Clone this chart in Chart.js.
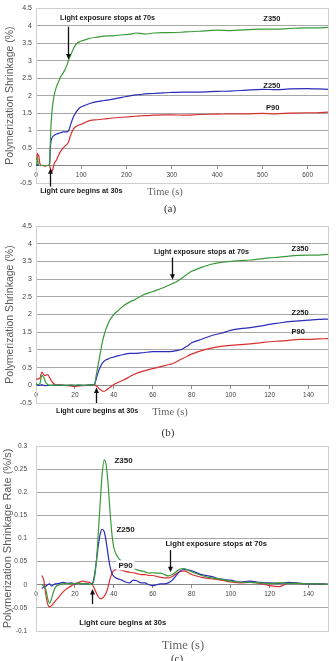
<!DOCTYPE html>
<html>
<head>
<meta charset="utf-8">
<script src="https://cdn.jsdelivr.net/npm/chart.js"></script>
<style>
  body { margin: 0; background: #fff; width: 336px; height: 661px; overflow: hidden; position: relative; }
  .box { position: absolute; left: 0; width: 336px; }
</style>
</head>
<body>
<div class="box" style="top:0;height:215px"><canvas id="chartA"></canvas></div>
<div class="box" style="top:215px;height:225px"><canvas id="chartB"></canvas></div>
<div class="box" style="top:430px;height:231px"><canvas id="chartC"></canvas></div>
<script>
// (a) shrinkage, whole run 0-645 s
var timeA = [0, 1, 2, 3, 4, 5, 6, 8, 10, 15, 20, 25, 29, 30, 31, 32, 33, 35, 37, 40, 45, 50, 55, 60, 65, 70, 73, 76, 80, 85, 90, 95, 100, 110, 120, 135, 150, 170, 190, 210, 220, 230, 240, 260, 280, 300, 330, 360, 400, 430, 460, 500, 530, 560, 600, 620, 645];
var z350A = [0.05, 0.02, 0.1, 0.25, 0.15, 0.05, 0, 0, 0, 0, 0, 0, 0, 0.05, 0.4, 0.8, 1.1, 1.5, 1.75, 2.0, 2.25, 2.4, 2.55, 2.65, 2.77, 2.93, 3.05, 3.15, 3.26, 3.4, 3.49, 3.53, 3.56, 3.6, 3.64, 3.67, 3.7, 3.71, 3.74, 3.76, 3.79, 3.78, 3.76, 3.79, 3.8, 3.8, 3.82, 3.84, 3.87, 3.86, 3.88, 3.9, 3.9, 3.92, 3.94, 3.94, 3.95];
var z250A = [0.04, 0, 0.02, 0.03, 0, 0, 0, 0, 0, 0, 0, 0, 0, 0.03, 0.3, 0.55, 0.68, 0.78, 0.83, 0.86, 0.9, 0.92, 0.94, 0.96, 0.96, 0.97, 1.02, 1.15, 1.3, 1.45, 1.55, 1.63, 1.68, 1.73, 1.78, 1.83, 1.86, 1.9, 1.95, 2.0, 2.02, 2.03, 2.05, 2.06, 2.08, 2.09, 2.1, 2.1, 2.12, 2.13, 2.15, 2.18, 2.17, 2.19, 2.2, 2.19, 2.18];
var p90A = [0.17, 0.18, 0.2, 0.35, 0.3, 0.28, 0.3, 0.1, 0.02, 0, -0.02, 0, 0.02, 0, -0.05, -0.1, -0.13, -0.17, -0.12, 0.05, 0.15, 0.3, 0.42, 0.5, 0.57, 0.63, 0.72, 0.85, 0.98, 1.08, 1.13, 1.16, 1.18, 1.24, 1.29, 1.31, 1.33, 1.36, 1.38, 1.4, 1.41, 1.42, 1.43, 1.44, 1.45, 1.45, 1.44, 1.46, 1.47, 1.48, 1.48, 1.49, 1.48, 1.5, 1.51, 1.51, 1.53];

// (b) shrinkage, first 150 s
var timeB = [0, 1, 2, 3, 4, 5, 6, 7, 8, 9, 10, 12, 15, 18, 20, 22, 25, 28, 30, 31, 32, 33, 34, 35, 36, 37, 38, 40, 42, 45, 48, 50, 55, 60, 65, 68, 70, 72, 75, 78, 80, 85, 90, 95, 100, 105, 110, 115, 120, 125, 130, 135, 140, 145, 150];
var z350B = [0.05, 0.02, 0.05, 0.28, 0.22, 0.08, 0.02, 0, 0, 0.01, 0, 0.01, 0, 0.01, 0, 0.01, 0, 0.01, 0.02, 0.3, 0.6, 0.9, 1.2, 1.42, 1.6, 1.73, 1.85, 2.0, 2.1, 2.25, 2.35, 2.4, 2.55, 2.65, 2.75, 2.82, 2.87, 2.92, 3.03, 3.15, 3.22, 3.33, 3.42, 3.47, 3.5, 3.52, 3.54, 3.57, 3.6, 3.62, 3.65, 3.67, 3.68, 3.68, 3.7];
var z250B = [0.04, 0, 0, 0.02, 0, -0.01, 0, 0, 0, 0, 0, 0, 0, 0, 0, 0, 0, 0, 0.02, 0.2, 0.38, 0.52, 0.62, 0.68, 0.72, 0.74, 0.77, 0.8, 0.83, 0.87, 0.9, 0.9, 0.92, 0.95, 0.95, 0.95, 0.96, 0.98, 1.02, 1.12, 1.2, 1.3, 1.4, 1.47, 1.55, 1.6, 1.63, 1.67, 1.72, 1.76, 1.8, 1.82, 1.84, 1.86, 1.87];
var p90B = [0.17, 0.18, 0.2, 0.37, 0.3, 0.28, 0.3, 0.22, 0.12, 0.05, 0.02, 0.01, 0, -0.02, -0.03, -0.02, 0, 0.01, 0.02, -0.02, -0.07, -0.12, -0.16, -0.17, -0.14, -0.1, -0.06, 0.02, 0.08, 0.15, 0.24, 0.3, 0.4, 0.47, 0.54, 0.58, 0.61, 0.66, 0.75, 0.83, 0.88, 0.98, 1.05, 1.1, 1.13, 1.15, 1.17, 1.2, 1.23, 1.25, 1.27, 1.3, 1.3, 1.31, 1.32];

// (c) shrinkage rate
var timeC = [3, 4, 5, 6, 7, 8, 9, 10, 12, 14, 16, 18, 20, 22, 24, 26, 28, 29, 30, 31, 32, 33, 34, 35, 36, 37, 38, 39, 40, 42, 44, 46, 48, 50, 52, 54, 56, 58, 60, 62, 64, 66, 68, 70, 72, 74, 76, 78, 80, 85, 90, 95, 100, 105, 110, 115, 120, 125, 130, 135, 140, 145, 150];
var z350C = [0, -0.003, -0.01, -0.03, -0.04, -0.03, -0.015, -0.005, 0, 0.002, 0.003, 0.002, 0.003, 0.003, 0.002, 0.002, 0.001, 0.002, 0.015, 0.05, 0.11, 0.18, 0.24, 0.27, 0.26, 0.22, 0.16, 0.11, 0.08, 0.06, 0.05, 0.04, 0.038, 0.035, 0.032, 0.03, 0.028, 0.025, 0.026, 0.025, 0.025, 0.022, 0.019, 0.022, 0.028, 0.034, 0.035, 0.032, 0.028, 0.02, 0.015, 0.012, 0.008, 0.006, 0.005, 0.004, 0.003, 0.004, 0.003, 0.003, 0.002, 0.002, 0.001];
var z250C = [-0.008, -0.005, -0.003, 0, 0.002, -0.003, 0, 0.002, 0.003, 0.005, 0.003, 0.004, 0.002, 0.003, 0.002, 0.002, 0.001, 0.003, 0.02, 0.05, 0.085, 0.11, 0.12, 0.115, 0.095, 0.065, 0.04, 0.025, 0.018, 0.013, 0.01, 0.006, 0.004, 0.01, 0.008, 0.004, 0.004, 0, -0.002, 0, 0.002, 0.002, 0.004, 0.01, 0.02, 0.03, 0.033, 0.032, 0.03, 0.022, 0.018, 0.012, 0.01, 0.006, 0.008, 0.005, 0.004, 0.003, 0.005, 0.003, 0.002, 0.002, 0.001];
var p90C = [0.02, 0.01, -0.02, -0.042, -0.048, -0.045, -0.04, -0.035, -0.025, -0.015, -0.008, -0.003, 0.002, 0.005, 0.008, 0.006, 0.004, 0, -0.008, -0.018, -0.026, -0.03, -0.029, -0.025, -0.018, -0.005, 0.012, 0.025, 0.031, 0.033, 0.031, 0.029, 0.027, 0.026, 0.024, 0.022, 0.022, 0.02, 0.02, 0.018, 0.016, 0.015, 0.015, 0.018, 0.024, 0.028, 0.03, 0.027, 0.022, 0.016, 0.013, 0.01, 0.006, 0.004, 0.005, 0.003, -0.002, -0.004, 0.004, 0.003, 0.002, 0.002, 0.001];

var green = '#3a9a3a'
var blue = '#2c2cb8'
var red = '#d83030'
var sans = '"Liberation Sans", Arial, sans-serif'
var serif = '"Liberation Serif", "DejaVu Serif", serif'

function pts(t, v) {
  return t.map(function (x, i) { return { x: x, y: v[i] } })
}
function line(label, t, v, color) {
  return { label: label, data: pts(t, v), borderColor: color, borderWidth: 1.2, pointRadius: 0, fill: false, cubicInterpolationMode: 'monotone' }
}
function fmt(v) { return String(Number(v.toFixed(3))) }

// arrows, text labels and captions
var notes = {
  id: 'notes',
  beforeDatasetsDraw: function (chart) {
    var ctx = chart.ctx, a = chart.chartArea
    ctx.save()
    ctx.strokeStyle = '#cfcfcf'
    ctx.lineWidth = 1
    ctx.strokeRect(Math.round(a.left) + 0.5, Math.round(a.top) + 0.5, Math.round(a.right - a.left), Math.round(a.bottom - a.top))
    ctx.restore()
  },
  afterDraw: function (chart, args, opts) {
    var ctx = chart.ctx, xs = chart.scales.x, ys = chart.scales.y
    ctx.save()
    ctx.fillStyle = '#111'
    ctx.strokeStyle = '#111'
    ;(opts.arrows || []).forEach(function (ar) {
      var px = Math.round(xs.getPixelForValue(ar.x)) + 0.5
      var y0 = ys.getPixelForValue(ar.from), y1 = ys.getPixelForValue(ar.to)
      var dir = y1 > y0 ? 1 : -1
      ctx.lineWidth = 1.3
      ctx.beginPath(); ctx.moveTo(px, y0); ctx.lineTo(px, y1 - dir * 3); ctx.stroke()
      ctx.beginPath(); ctx.moveTo(px, y1); ctx.lineTo(px - 2.5, y1 - dir * 5.5); ctx.lineTo(px + 2.5, y1 - dir * 5.5); ctx.closePath(); ctx.fill()
    })
    ;(opts.labels || []).forEach(function (l) {
      var px = xs.getPixelForValue(l.x), py = ys.getPixelForValue(l.y)
      ctx.font = l.font
      ctx.textAlign = 'center'
      ctx.textBaseline = 'middle'
      if (l.bg) {
        var w = ctx.measureText(l.text).width
        ctx.fillStyle = '#fff'
        ctx.fillRect(px - w / 2 - 2, py - 5, w + 4, 10)
      }
      ctx.fillStyle = '#1a1a1a'
      ctx.fillText(l.text, px, py)
    })
    ;(opts.captions || []).forEach(function (c) {
      ctx.font = c.font
      ctx.fillStyle = c.color
      ctx.textAlign = 'center'
      ctx.textBaseline = 'middle'
      ctx.fillText(c.text, c.x, c.y)
    })
    ctx.restore()
  }
}

function makeChart(id, t, s350, s250, s90, cfg) {
  return new Chart(id, {
    type: 'line',
    data: {
      datasets: [line('Z350', t, s350, green), line('Z250', t, s250, blue), line('P90', t, s90, red)]
    },
    options: {
      responsive: true,
      maintainAspectRatio: false,
      animation: false,
      layout: { padding: cfg.padding },
      plugins: {
        legend: { display: false },
        tooltip: { enabled: false },
        notes: { arrows: cfg.arrows, labels: cfg.labels, captions: cfg.captions }
      },
      scales: {
        x: {
          type: 'linear',
          position: { y: 0 },
          min: 0, max: cfg.xMax,
          afterFit: function (s) { s.height = 0 },
          ticks: { stepSize: cfg.xStep, includeBounds: false, color: '#444', padding: 3, maxRotation: 0, font: { size: 6.5, family: sans } },
          grid: { drawOnChartArea: false, drawTicks: true, tickLength: 3, color: '#888' },
          border: { color: '#888' }
        },
        y: {
          min: cfg.yMin, max: cfg.yMax,
          afterFit: function (s) { s.width = 36 },
          ticks: { stepSize: cfg.yStep, color: '#444', padding: cfg.tickPad, callback: fmt, font: { size: cfg.yTickSize, family: sans } },
          grid: { color: '#a8a8a8', drawTicks: false },
          border: { color: '#999' },
          title: { display: true, text: cfg.yTitle, color: '#5a5a5a', padding: { top: cfg.titlePad, bottom: 0 }, font: { size: cfg.titleSize, family: sans } }
        }
      }
    },
    plugins: [notes]
  })
}

var noteAB = 'bold 7.2px ' + sans
var seriesAB = 'bold 7.5px ' + sans

makeChart('chartA', timeA, z350A, z250A, p90A, {
  padding: { top: 6, bottom: 32, left: 0, right: 8 },
  xMax: 645, xStep: 100,
  yMin: -0.5, yMax: 4.5, yStep: 0.5, yTickSize: 7, tickPad: 4,
  yTitle: 'Polymerization Shrinkage (%)', titleSize: 10.5, titlePad: 4,
  arrows: [{ x: 70, from: 3.97, to: 3.03 }, { x: 30, from: -0.6, to: -0.08 }],
  labels: [
    { text: 'Light exposure stops at 70s', x: 158, y: 4.23, font: noteAB },
    { text: 'Light cure begins at 30s', x: 100, y: -0.73, font: noteAB },
    { text: 'Z350', x: 521, y: 4.2, font: seriesAB },
    { text: 'Z250', x: 521, y: 2.28, font: seriesAB },
    { text: 'P90', x: 523, y: 1.66, font: seriesAB }
  ],
  captions: [
    { text: 'Time (s)', x: 165, y: 192, font: '10.5px ' + serif, color: '#666' },
    { text: '(a)', x: 170, y: 209, font: '11px ' + serif, color: '#333' }
  ]
})

makeChart('chartB', timeB, z350B, z250B, p90B, {
  padding: { top: 11, bottom: 37, left: 0, right: 8 },
  xMax: 150, xStep: 20,
  yMin: -0.5, yMax: 4.5, yStep: 0.5, yTickSize: 7, tickPad: 4,
  yTitle: 'Polymerization Shrinkage (%)', titleSize: 10.5, titlePad: 4,
  arrows: [{ x: 70, from: 3.61, to: 2.98 }, { x: 31, from: -0.5, to: -0.06 }],
  labels: [
    { text: 'Light exposure stops at 70s', x: 85, y: 3.77, font: noteAB },
    { text: 'Light cure begins at 30s', x: 31.4, y: -0.74, font: noteAB },
    { text: 'Z350', x: 135.7, y: 3.85, font: seriesAB },
    { text: 'Z250', x: 135.7, y: 2.05, font: seriesAB },
    { text: 'P90', x: 134.7, y: 1.51, font: seriesAB }
  ],
  captions: [
    { text: 'Time (s)', x: 170, y: 197, font: '10.5px ' + serif, color: '#666' },
    { text: '(b)', x: 168, y: 218, font: '11px ' + serif, color: '#333' }
  ]
})

makeChart('chartC', timeC, z350C, z250C, p90C, {
  padding: { top: 16, bottom: 30, left: 0, right: 8 },
  xMax: 150, xStep: 20,
  yMin: -0.1, yMax: 0.3, yStep: 0.05, yTickSize: 6.5, tickPad: 9,
  yTitle: 'Polymerization Shrinkage Rate (%/s)', titleSize: 11, titlePad: 1,
  arrows: [{ x: 69, from: 0.075, to: 0.027 }, { x: 29, from: -0.042, to: -0.009 }],
  labels: [
    { text: 'Light exposure stops at 70s', x: 92.6, y: 0.089, font: 'bold 7.7px ' + sans },
    { text: 'Light cure begins at 30s', x: 44.6, y: -0.082, font: 'bold 7.6px ' + sans },
    { text: 'Z350', x: 45, y: 0.268, font: 'bold 8px ' + sans },
    { text: 'Z250', x: 46, y: 0.118, font: 'bold 8px ' + sans },
    { text: 'P90', x: 46, y: 0.042, font: 'bold 8px ' + sans, bg: true }
  ],
  captions: [
    { text: 'Time (s)', x: 183, y: 216, font: '12.5px ' + serif, color: '#666' },
    { text: '(c)', x: 177, y: 229, font: '11px ' + serif, color: '#333' }
  ]
})
</script>
</body>
</html>
